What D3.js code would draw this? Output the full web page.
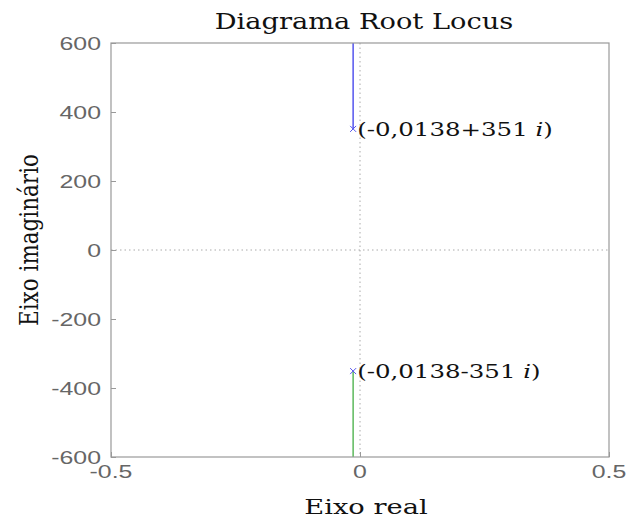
<!DOCTYPE html>
<html><head><meta charset="utf-8">
<script src="https://cdn.jsdelivr.net/npm/d3@7"></script>
<style>body{margin:0;background:#fff}</style>
</head><body>
<script>
const xTicks = [-0.5, 0, 0.5];
const yTicks = [-600, -400, -200, 0, 200, 400, 600];
const poles = [
  {re: -0.0138, im: 351, label: "(-0,0138+351 ", color: "#5555ee"},
  {re: -0.0138, im: -351, label: "(-0,0138-351 ", color: "#5cb85c"}
];
const branchEnds = [600, -600];

const W = 644, H = 522;
const m = {l: 111, r: 609, t: 43, b: 457};
const svg = d3.select("body").append("svg").attr("width", W).attr("height", H);
const x = d3.scaleLinear().domain([-0.5, 0.5]).range([m.l, m.r]);
const y = d3.scaleLinear().domain([-600, 600]).range([m.b, m.t]);

function txt(px, py, s, opts) {
  const t = svg.append("text")
    .attr("transform", `translate(${px},${py}) ${opts.rot ? "rotate(-90)" : ""} scale(${opts.sx || 1},${opts.sy || 1})`)
    .attr("text-anchor", opts.anchor || "middle")
    .attr("font-family", opts.family || "DejaVu Serif")
    .attr("font-size", opts.size)
    .attr("fill", opts.fill || "#111");
  if (s !== null) t.text(s);
  return t;
}

// dotted zero lines
svg.append("line").attr("x1", x(0)).attr("x2", x(0)).attr("y1", m.t).attr("y2", m.b)
  .attr("stroke", "#aaa").attr("stroke-dasharray", "1.5,3");
svg.append("line").attr("x1", m.l).attr("x2", m.r).attr("y1", y(0)).attr("y2", y(0))
  .attr("stroke", "#aaa").attr("stroke-dasharray", "1.5,3");

// branches and poles
poles.forEach((p, i) => {
  svg.append("line").attr("x1", x(p.re)).attr("x2", x(p.re))
    .attr("y1", y(p.im)).attr("y2", y(branchEnds[i]))
    .attr("stroke", p.color).attr("stroke-width", 1.5);
  const cx = x(p.re), cy = y(p.im), s = 3;
  svg.append("path").attr("d", `M${cx-s},${cy-s}L${cx+s},${cy+s}M${cx-s},${cy+s}L${cx+s},${cy-s}`)
    .attr("stroke", "#5555ee").attr("stroke-width", 1);
  const t = txt(cx + 4, cy + 7, null, {anchor: "start", size: 18, sx: 1.36});
  t.append("tspan").text(p.label);
  t.append("tspan").attr("font-style", "italic").text("i");
  t.append("tspan").text(")");
});

// frame
svg.append("rect").attr("x", m.l).attr("y", m.t).attr("width", m.r - m.l).attr("height", m.b - m.t)
  .attr("fill", "none").attr("stroke", "#999").attr("stroke-width", 1.2);

// axes (tick marks)
const yAx = svg.append("g").attr("transform", `translate(${m.l},0)`)
  .call(d3.axisLeft(y).tickValues(yTicks).tickSize(-5).tickFormat(""));
const xAx = svg.append("g").attr("transform", `translate(0,${m.b})`)
  .call(d3.axisBottom(x).tickValues(xTicks).tickSize(-5).tickFormat(""));
[yAx, xAx].forEach(g => {
  g.select(".domain").remove();
  g.selectAll("line").attr("stroke", "#999");
});
// tick labels
yTicks.forEach(v => txt(m.l - 10, y(v) + 6.5, String(v),
  {anchor: "end", family: "Liberation Sans, Arial", size: 18, sx: 1.38, fill: "#666"}));
xTicks.forEach(v => txt(x(v), m.b + 21, String(v),
  {anchor: "middle", family: "Liberation Sans, Arial", size: 18, sx: 1.38, fill: "#666"}));

// titles
txt(364, 29, "Diagrama Root Locus", {size: 22, sx: 1.24});
txt(366, 514, "Eixo real", {size: 21, sx: 1.3});
txt(38, 240, "Eixo imaginário", {size: 21.5, rot: true, sy: 1.25});
</script>
</body></html>
